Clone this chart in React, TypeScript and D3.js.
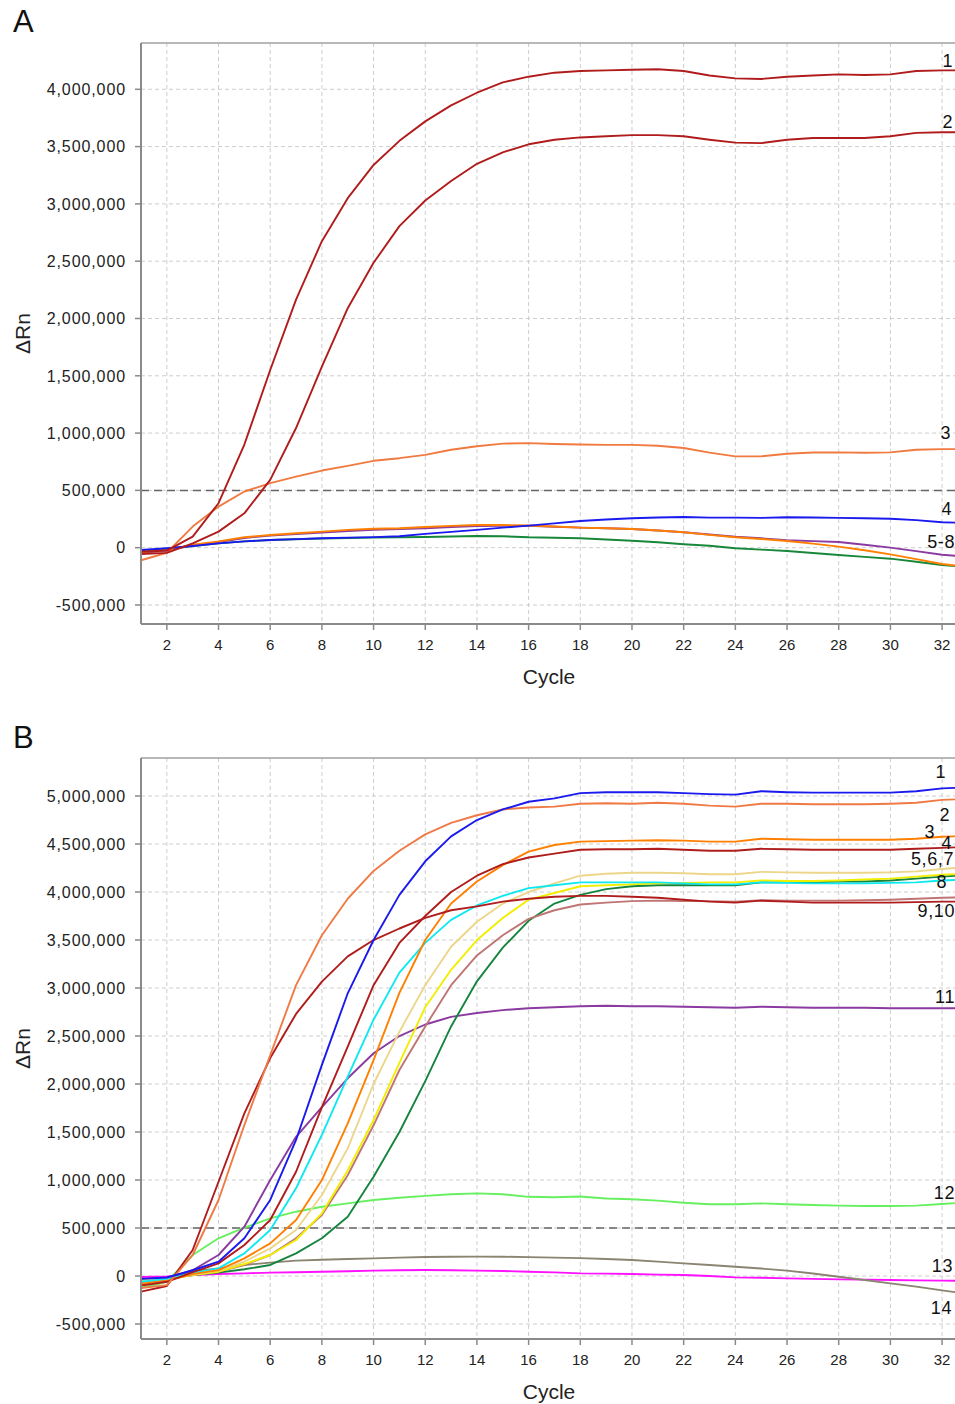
import React from "react";
import * as d3 from "d3";

// ---------- shared ----------
const cycles = [1, 2, 3, 4, 5, 6, 7, 8, 9, 10, 11, 12, 13, 14, 15, 16, 17, 18, 19, 20, 21, 22, 23, 24, 25, 26, 27, 28, 29, 30, 31, 32, 33];
const xTicks = [2, 4, 6, 8, 10, 12, 14, 16, 18, 20, 22, 24, 26, 28, 30, 32];
const threshold = 500000;

// ---------- panel A ----------
const aTicks = [-500000, 0, 500000, 1000000, 1500000, 2000000, 2500000, 3000000, 3500000, 4000000];
const aSample1 = [-35000, -25000, 96000, 388000, 900000, 1550000, 2165000, 2675000, 3050000, 3340000, 3550000, 3720000, 3860000, 3970000, 4060000, 4110000, 4145000, 4160000, 4165000, 4170000, 4175000, 4160000, 4120000, 4095000, 4090000, 4110000, 4120000, 4130000, 4125000, 4130000, 4160000, 4165000, 4165000];
const aSample2 = [-55000, -45000, 38000, 140000, 300000, 592000, 1044000, 1580000, 2090000, 2486000, 2806000, 3030000, 3200000, 3350000, 3450000, 3520000, 3560000, 3580000, 3590000, 3600000, 3600000, 3590000, 3560000, 3535000, 3530000, 3560000, 3575000, 3575000, 3575000, 3590000, 3620000, 3625000, 3625000];
const aSample3 = [-110000, -44000, 184000, 358000, 490000, 563000, 620000, 673000, 714000, 758000, 781000, 810000, 855000, 885000, 908000, 912000, 905000, 900000, 897000, 897000, 890000, 870000, 830000, 797000, 797000, 820000, 830000, 832000, 828000, 832000, 855000, 860000, 860000];
const aSample4 = [-20000, -5000, 15000, 38000, 55000, 67000, 75000, 82000, 88000, 92000, 100000, 120000, 138000, 155000, 175000, 192000, 212000, 233000, 246000, 257000, 263000, 268000, 262000, 262000, 260000, 266000, 264000, 260000, 257000, 253000, 240000, 222000, 215000];
const aSample5 = [-40000, -20000, 25000, 55000, 91000, 111000, 126000, 140000, 155000, 165000, 170000, 180000, 190000, 198000, 198000, 194000, 185000, 175000, 170000, 163000, 150000, 135000, 112000, 91000, 76000, 58000, 35000, 9000, -22000, -58000, -100000, -142000, -170000];
const aSample6 = [-45000, -25000, 20000, 48000, 85000, 105000, 118000, 132000, 145000, 155000, 162000, 170000, 180000, 188000, 192000, 190000, 183000, 175000, 170000, 163000, 150000, 135000, 115000, 95000, 82000, 65000, 57000, 50000, 25000, 0, -30000, -62000, -80000];
const aSample7 = [-30000, -12000, 15000, 38000, 55000, 67000, 74000, 80000, 85000, 88000, 91000, 93000, 97000, 102000, 100000, 91000, 87000, 82000, 72000, 61000, 47000, 30000, 17000, -5000, -17000, -29000, -46000, -64000, -80000, -96000, -123000, -151000, -170000];

// ---------- panel B ----------
const bTicks = [-500000, 0, 500000, 1000000, 1500000, 2000000, 2500000, 3000000, 3500000, 4000000, 4500000, 5000000];
const bBlue = [-30000, -15000, 60000, 149000, 393000, 792000, 1417000, 2200000, 2945000, 3500000, 3970000, 4320000, 4580000, 4750000, 4860000, 4940000, 4975000, 5030000, 5040000, 5040000, 5040000, 5030000, 5020000, 5015000, 5050000, 5040000, 5035000, 5035000, 5035000, 5035000, 5050000, 5080000, 5090000];
const bCoral = [-125000, -95000, 219000, 792000, 1573000, 2300000, 3030000, 3550000, 3930000, 4220000, 4430000, 4600000, 4720000, 4800000, 4860000, 4880000, 4890000, 4920000, 4925000, 4920000, 4930000, 4920000, 4900000, 4890000, 4920000, 4920000, 4915000, 4915000, 4915000, 4920000, 4930000, 4960000, 4970000];
const bOrange = [-80000, -50000, 20000, 62000, 184000, 340000, 583000, 1000000, 1590000, 2250000, 2950000, 3500000, 3880000, 4110000, 4280000, 4420000, 4490000, 4525000, 4530000, 4535000, 4540000, 4535000, 4525000, 4525000, 4555000, 4550000, 4545000, 4545000, 4545000, 4545000, 4555000, 4575000, 4585000];
const bDarkRed = [-100000, -60000, 40000, 132000, 323000, 583000, 1086000, 1760000, 2390000, 3030000, 3470000, 3750000, 4000000, 4170000, 4290000, 4360000, 4400000, 4440000, 4445000, 4445000, 4450000, 4440000, 4430000, 4430000, 4450000, 4445000, 4440000, 4440000, 4440000, 4440000, 4450000, 4460000, 4470000];
const bTan = [-50000, -30000, 15000, 56000, 149000, 288000, 479000, 844000, 1330000, 2000000, 2545000, 3030000, 3430000, 3690000, 3880000, 4000000, 4090000, 4170000, 4190000, 4200000, 4200000, 4195000, 4185000, 4185000, 4210000, 4205000, 4200000, 4200000, 4200000, 4205000, 4215000, 4240000, 4260000];
const bYellow = [-50000, -30000, 10000, 45000, 125000, 219000, 375000, 653000, 1100000, 1625000, 2220000, 2800000, 3190000, 3500000, 3730000, 3920000, 3990000, 4060000, 4070000, 4080000, 4090000, 4095000, 4100000, 4100000, 4120000, 4115000, 4115000, 4120000, 4130000, 4140000, 4160000, 4180000, 4190000];
const bCyan = [-60000, -30000, 30000, 80000, 236000, 479000, 914000, 1470000, 2076000, 2670000, 3160000, 3470000, 3710000, 3860000, 3960000, 4040000, 4070000, 4100000, 4100000, 4100000, 4100000, 4090000, 4080000, 4080000, 4100000, 4095000, 4090000, 4090000, 4090000, 4095000, 4100000, 4120000, 4130000];
const bGreen = [-40000, -20000, 10000, 35000, 70000, 115000, 236000, 393000, 618000, 1034000, 1500000, 2030000, 2600000, 3070000, 3420000, 3700000, 3880000, 3970000, 4030000, 4060000, 4070000, 4070000, 4070000, 4070000, 4100000, 4100000, 4100000, 4110000, 4110000, 4120000, 4140000, 4160000, 4180000];
const bRosy = [-60000, -35000, 10000, 45000, 115000, 219000, 393000, 635000, 1050000, 1570000, 2146000, 2600000, 3030000, 3340000, 3550000, 3720000, 3810000, 3870000, 3890000, 3905000, 3910000, 3905000, 3905000, 3900000, 3915000, 3910000, 3910000, 3910000, 3915000, 3920000, 3930000, 3940000, 3945000];
const bEarlyRed = [-163000, -104000, 271000, 982000, 1695000, 2270000, 2730000, 3066000, 3330000, 3500000, 3620000, 3730000, 3810000, 3850000, 3900000, 3930000, 3950000, 3960000, 3960000, 3950000, 3940000, 3920000, 3900000, 3890000, 3910000, 3900000, 3890000, 3890000, 3890000, 3890000, 3895000, 3900000, 3900000];
const bPurple = [-30000, -20000, 60000, 219000, 514000, 1000000, 1450000, 1760000, 2060000, 2320000, 2500000, 2620000, 2700000, 2740000, 2770000, 2790000, 2800000, 2810000, 2815000, 2810000, 2810000, 2805000, 2800000, 2795000, 2805000, 2800000, 2795000, 2795000, 2795000, 2790000, 2790000, 2790000, 2790000];
const bLightGreen = [-125000, -60000, 219000, 393000, 503000, 600000, 670000, 722000, 757000, 792000, 816000, 835000, 852000, 861000, 852000, 825000, 820000, 828000, 808000, 799000, 785000, 764000, 747000, 747000, 757000, 747000, 740000, 733000, 730000, 729000, 733000, 750000, 768000];
const bOlive = [-90000, -40000, 50000, 80000, 115000, 140000, 160000, 170000, 177000, 184000, 192000, 198000, 201000, 202000, 201000, 197000, 192000, 186000, 178000, 167000, 150000, 132000, 115000, 97000, 78000, 56000, 26000, -7000, -42000, -76000, -110000, -150000, -185000];
const bMagenta = [-10000, -5000, 10000, 21000, 28000, 35000, 40000, 45000, 50000, 56000, 60000, 62000, 60000, 56000, 52000, 45000, 38000, 28000, 25000, 21000, 15000, 10000, 0, -14000, -18000, -24000, -30000, -35000, -38000, -42000, -45000, -48000, -50000];

type Series = { values: number[]; color: string };
type Label = { text: string; x: number; y: number };

const seriesA: Series[] = [
  { values: aSample7, color: "#17873a" },
  { values: aSample6, color: "#8a3aa0" },
  { values: aSample5, color: "#ff8000" },
  { values: aSample4, color: "#1a1aee" },
  { values: aSample3, color: "#f07a40" },
  { values: aSample2, color: "#b01c1c" },
  { values: aSample1, color: "#b01c1c" },
];

const seriesB: Series[] = [
  { values: bMagenta, color: "#ff10ff" },
  { values: bOlive, color: "#8a8470" },
  { values: bLightGreen, color: "#66f060" },
  { values: bPurple, color: "#8a3aa0" },
  { values: bGreen, color: "#15843e" },
  { values: bRosy, color: "#c07474" },
  { values: bYellow, color: "#f2ee00" },
  { values: bTan, color: "#ecd68a" },
  { values: bCyan, color: "#10e8f0" },
  { values: bOrange, color: "#ff7f00" },
  { values: bDarkRed, color: "#b01c1c" },
  { values: bEarlyRed, color: "#b01c1c" },
  { values: bCoral, color: "#f07a45" },
  { values: bBlue, color: "#1a1aee" },
];

const labelsA: Label[] = [
  { text: "1", x: 953, y: 61 },
  { text: "2", x: 953, y: 122 },
  { text: "3", x: 951, y: 433 },
  { text: "4", x: 952, y: 509 },
  { text: "5-8", x: 955, y: 542 },
];
const labelsB: Label[] = [
  { text: "1", x: 946, y: 772 },
  { text: "2", x: 950, y: 815 },
  { text: "3", x: 935, y: 832 },
  { text: "4", x: 952, y: 843 },
  { text: "5,6,7", x: 954, y: 859 },
  { text: "8", x: 947, y: 882 },
  { text: "9,10", x: 955, y: 911 },
  { text: "11", x: 955, y: 997 },
  { text: "12", x: 955, y: 1193 },
  { text: "13", x: 953, y: 1266 },
  { text: "14", x: 952, y: 1308 },
];

const FONT = "'Liberation Sans', Arial, Helvetica, sans-serif";
const fmt = (v: number) => d3.format(",")(v).replace("\u2212", "-");

type PanelProps = {
  id: string;
  top: number;
  bottom: number;
  yMin: number;
  yMax: number;
  yTicks: number[];
  series: Series[];
  labels: Label[];
  letter: string;
  letterBaseline: number;
};

function Panel(p: PanelProps) {
  const left = 141;
  const right = 955;
  const x = d3.scaleLinear().domain([1, 32.5]).range([left, right]);
  const y = d3.scaleLinear().domain([p.yMin, p.yMax]).range([p.bottom, p.top]);
  const line = d3
    .line<number>()
    .x((_, i) => x(cycles[i]))
    .y((d) => y(d));
  const midY = (p.top + p.bottom) / 2;
  return (
    <g>
      <defs>
        <clipPath id={"clip" + p.id}>
          <rect x={left} y={p.top} width={right - left} height={p.bottom - p.top} />
        </clipPath>
      </defs>
      <text x={13} y={p.letterBaseline} fontSize={31} fontFamily={FONT} fill="#111">
        {p.letter}
      </text>
      {/* grid */}
      {p.yTicks.map((t) => (
        <line key={"gy" + t} x1={left} x2={right} y1={y(t)} y2={y(t)} stroke="#cdcdcd" strokeWidth={1} strokeDasharray="4,3" />
      ))}
      {xTicks.map((t) => (
        <line key={"gx" + t} x1={x(t)} x2={x(t)} y1={p.top} y2={p.bottom} stroke="#cdcdcd" strokeWidth={1} strokeDasharray="4,3" />
      ))}
      {/* threshold */}
      <line x1={left} x2={right} y1={y(threshold)} y2={y(threshold)} stroke="#666" strokeWidth={1.5} strokeDasharray="8,5" />
      {/* curves */}
      <g clipPath={`url(#clip${p.id})`}>
        {p.series.map((s, i) => (
          <path key={i} d={line(s.values) || ""} fill="none" stroke={s.color} strokeWidth={1.9} strokeLinejoin="round" />
        ))}
      </g>
      {/* frame */}
      <line x1={left} x2={right} y1={p.top} y2={p.top} stroke="#a0a0a0" strokeWidth={1.5} />
      <line x1={left} x2={left} y1={p.top} y2={p.bottom} stroke="#8a8a8a" strokeWidth={2} />
      <line x1={left} x2={right} y1={p.bottom} y2={p.bottom} stroke="#8a8a8a" strokeWidth={2} />
      {/* y ticks */}
      {p.yTicks.map((t) => (
        <g key={"yt" + t}>
          <line x1={left - 6} x2={left} y1={y(t)} y2={y(t)} stroke="#8a8a8a" strokeWidth={1.5} />
          <text x={126} y={y(t)} dy="0.36em" textAnchor="end" fontSize={16} letterSpacing={0.9} fontFamily={FONT} fill="#222">
            {fmt(t)}
          </text>
        </g>
      ))}
      {/* x ticks */}
      {xTicks.map((t) => (
        <g key={"xt" + t}>
          <line x1={x(t)} x2={x(t)} y1={p.bottom} y2={p.bottom + 6} stroke="#8a8a8a" strokeWidth={1.5} />
          <text x={x(t)} y={p.bottom + 26} textAnchor="middle" fontSize={15} fontFamily={FONT} fill="#222">
            {t}
          </text>
        </g>
      ))}
      {/* axis titles */}
      <text x={549} y={p.bottom + 60} textAnchor="middle" fontSize={21} fontFamily={FONT} fill="#222">
        Cycle
      </text>
      <text transform={`translate(30,${midY}) rotate(-90)`} textAnchor="middle" fontSize={21} fontFamily={FONT} fill="#222">
        ΔRn
      </text>
      {/* curve labels */}
      {p.labels.map((l) => (
        <text key={l.text} x={l.x} y={l.y} dy="0.36em" textAnchor="end" fontSize={18} letterSpacing={0.6} fontFamily={FONT} fill="#111">
          {l.text}
        </text>
      ))}
    </g>
  );
}

export default function App() {
  return (
    <svg
      width={955}
      height={1404}
      viewBox="0 0 955 1404"
      style={{ position: "absolute", left: 0, top: 0, background: "#fff", display: "block" }}
    >
      <rect x={0} y={0} width={955} height={1404} fill="#fff" />
      <Panel id="A" top={43} bottom={624} yMin={-666000} yMax={4404000} yTicks={aTicks} series={seriesA} labels={labelsA} letter="A" letterBaseline={32} />
      <Panel id="B" top={758} bottom={1339} yMin={-656000} yMax={5396000} yTicks={bTicks} series={seriesB} labels={labelsB} letter="B" letterBaseline={748} />
    </svg>
  );
}
